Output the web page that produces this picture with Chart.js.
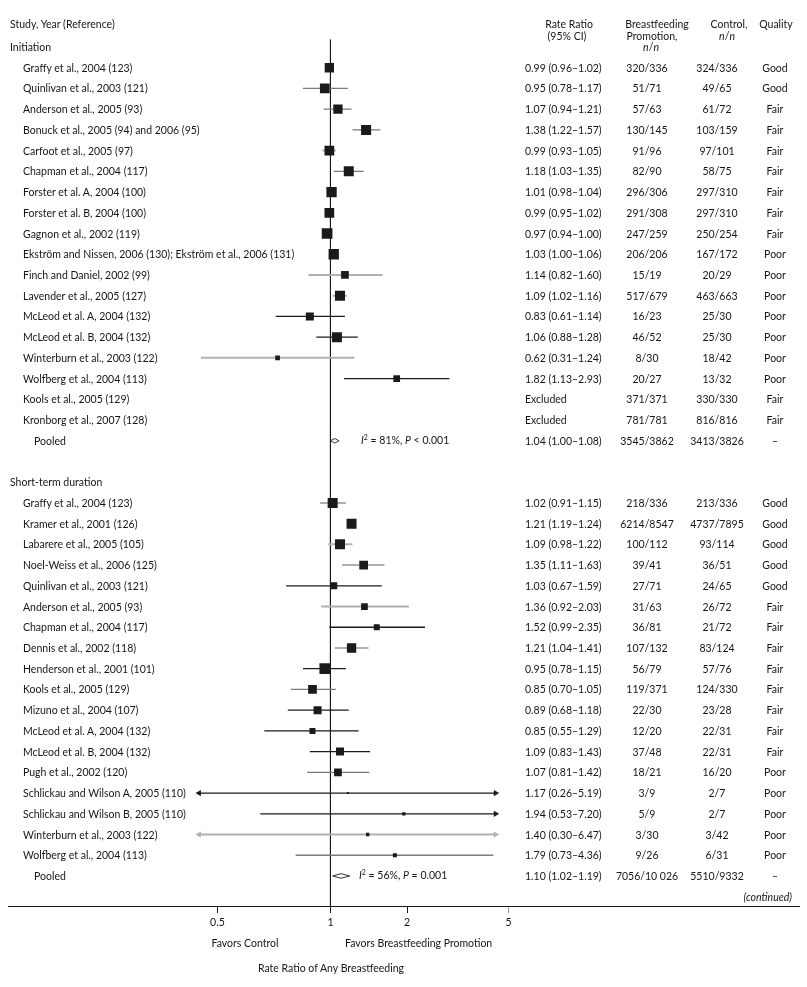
<!DOCTYPE html>
<html>
<head>
<meta charset="utf-8">
<script src="https://cdn.jsdelivr.net/npm/chart.js@4.4.1/dist/chart.umd.min.js"></script>
<style>
    body { margin: 0; background: #fff; }
    #wrap { position: relative; width: 807px; height: 987px; font-family: Lato, "Noto Sans", sans-serif; font-size: 10.5px; color: #151515; }
    #wrap canvas { position: absolute; left: 0; top: 0; }
    .t { position: absolute; white-space: nowrap; line-height: 12px; }
    .i { font-style: italic; }
</style>
</head>
<body>
<div id="wrap"><canvas id="forest" width="807" height="987"></canvas></div>
<script>
// Forest plot: rate ratio of any breastfeeding, promotion vs control

// --- Initiation ---
const initNames = [
    'Graffy et al., 2004 (123)', 'Quinlivan et al., 2003 (121)', 'Anderson et al., 2005 (93)',
    'Bonuck et al., 2005 (94) and 2006 (95)', 'Carfoot et al., 2005 (97)', 'Chapman et al., 2004 (117)',
    'Forster et al. A, 2004 (100)', 'Forster et al. B, 2004 (100)', 'Gagnon et al., 2002 (119)',
    'Ekström and Nissen, 2006 (130); Ekström et al., 2006 (131)', 'Finch and Daniel, 2002 (99)',
    'Lavender et al., 2005 (127)', 'McLeod et al. A, 2004 (132)', 'McLeod et al. B, 2004 (132)',
    'Winterburn et al., 2003 (122)', 'Wolfberg et al., 2004 (113)', 'Kools et al., 2005 (129)',
    'Kronborg et al., 2007 (128)'
];
const initRR = [0.99, 0.95, 1.07, 1.38, 0.99, 1.18, 1.01, 0.99, 0.97, 1.03, 1.14, 1.09, 0.83, 1.06, 0.62, 1.82, null, null];
const initLo = [0.96, 0.78, 0.94, 1.22, 0.93, 1.03, 0.98, 0.95, 0.94, 1.00, 0.82, 1.02, 0.61, 0.88, 0.31, 1.13, null, null];
const initHi = [1.02, 1.17, 1.21, 1.57, 1.05, 1.35, 1.04, 1.02, 1.00, 1.06, 1.60, 1.16, 1.14, 1.28, 1.24, 2.93, null, null];
const initPromo = ['320/336', '51/71', '57/63', '130/145', '91/96', '82/90', '296/306', '291/308', '247/259',
    '206/206', '15/19', '517/679', '16/23', '46/52', '8/30', '20/27', '371/371', '781/781'];
const initCtrl = ['324/336', '49/65', '61/72', '103/159', '97/101', '58/75', '297/310', '297/310', '250/254',
    '167/172', '20/29', '463/663', '25/30', '25/30', '18/42', '13/32', '330/330', '816/816'];
const initQuality = ['Good', 'Good', 'Fair', 'Fair', 'Fair', 'Fair', 'Fair', 'Fair', 'Fair',
    'Poor', 'Poor', 'Poor', 'Poor', 'Poor', 'Poor', 'Poor', 'Fair', 'Fair'];
const initWeight = [9.3, 9.7, 9.3, 10, 9.7, 10, 10.3, 9.7, 10.7, 10.3, 7.7, 10, 8, 10, 4.7, 6.7, 0, 0];
const initGroup = ['b', 'b', 'b', 'b', 'c', 'b', 'b', 'b', 'b', 'b', 'c', 'c', 'a', 'a', 'c', 'a', 'a', 'a'];

// --- Short-term duration ---
const shortNames = [
    'Graffy et al., 2004 (123)', 'Kramer et al., 2001 (126)', 'Labarere et al., 2005 (105)',
    'Noel-Weiss et al., 2006 (125)', 'Quinlivan et al., 2003 (121)', 'Anderson et al., 2005 (93)',
    'Chapman et al., 2004 (117)', 'Dennis et al., 2002 (118)', 'Henderson et al., 2001 (101)',
    'Kools et al., 2005 (129)', 'Mizuno et al., 2004 (107)', 'McLeod et al. A, 2004 (132)',
    'McLeod et al. B, 2004 (132)', 'Pugh et al., 2002 (120)', 'Schlickau and Wilson A, 2005 (110)',
    'Schlickau and Wilson B, 2005 (110)', 'Winterburn et al., 2003 (122)', 'Wolfberg et al., 2004 (113)'
];
const shortRR = [1.02, 1.21, 1.09, 1.35, 1.03, 1.36, 1.52, 1.21, 0.95, 0.85, 0.89, 0.85, 1.09, 1.07, 1.17, 1.94, 1.40, 1.79];
const shortLo = [0.91, 1.19, 0.98, 1.11, 0.67, 0.92, 0.99, 1.04, 0.78, 0.70, 0.68, 0.55, 0.83, 0.81, 0.26, 0.53, 0.30, 0.73];
const shortHi = [1.15, 1.24, 1.22, 1.63, 1.59, 2.03, 2.35, 1.41, 1.15, 1.05, 1.18, 1.29, 1.43, 1.42, 5.19, 7.20, 6.47, 4.36];
const shortPromo = ['218/336', '6214/8547', '100/112', '39/41', '27/71', '31/63', '36/81', '107/132', '56/79',
    '119/371', '22/30', '12/20', '37/48', '18/21', '3/9', '5/9', '3/30', '9/26'];
const shortCtrl = ['213/336', '4737/7895', '93/114', '36/51', '24/65', '26/72', '21/72', '83/124', '57/76',
    '124/330', '23/28', '22/31', '22/31', '16/20', '2/7', '2/7', '3/42', '6/31'];
const shortQuality = ['Good', 'Good', 'Good', 'Good', 'Good', 'Fair', 'Fair', 'Fair', 'Fair',
    'Fair', 'Fair', 'Fair', 'Fair', 'Poor', 'Poor', 'Poor', 'Poor', 'Poor'];
const shortWeight = [10, 10, 10, 8.7, 7, 6.7, 6, 9.3, 10.7, 8.7, 8, 6, 8, 7.7, 2, 3.3, 3.3, 4];
const shortGroup = ['c', 'b', 'c', 'c', 'a', 'c', 'a', 'c', 'a', 'b', 'a', 'a', 'a', 'b', 'a', 'a', 'c', 'b'];

// --- Pooled estimates (initiation, short-term) ---
const pooledRR = [1.04, 1.10];
const pooledLo = [1.00, 1.02];
const pooledHi = [1.08, 1.19];
const pooledPromo = ['3545/3862', '7056/10 026'];
const pooledCtrl = ['3413/3826', '5510/9332'];
const pooledI2 = ['81%', '56%'];
const pooledP = ['< 0.001', '= 0.001'];

// axis ticks (the source draws its "0.5" label at about 0.36 on the log scale)
const tickAt = [0.36, 1, 2, 5];
const tickLabels = ['0.5', '1', '2', '5'];
// CI lines beyond these get an arrow head
const clipLo = 0.305;
const clipHi = 4.45;

const groupColor = { a: '#1a1a1a', b: '#7a7a7a', c: '#b0b0b0' };
const ink = '#1a1a1a';

// build rows
const studies = [];
function addSection(firstRow, names, rr, lo, hi, promo, ctrl, quality, weight, group) {
    names.forEach((name, i) => {
        studies.push({ row: firstRow + i, name, rr: rr[i], lo: lo[i], hi: hi[i], promo: promo[i],
            ctrl: ctrl[i], quality: quality[i], weight: weight[i], group: group[i] });
    });
}
addSection(1, initNames, initRR, initLo, initHi, initPromo, initCtrl, initQuality, initWeight, initGroup);
addSection(22, shortNames, shortRR, shortLo, shortHi, shortPromo, shortCtrl, shortQuality, shortWeight, shortGroup);
const pooledRows = [19, 40];
const sectionRows = [[0, 'Initiation'], [21, 'Short-term duration']];

const plotted = studies.filter(s => s.rr != null);
const datasets = [];

// squares, drawn on top
datasets.push({
    type: 'scatter',
    data: plotted.map(s => ({ x: Math.log(s.rr), y: s.row })),
    pointStyle: 'rect',
    pointRadius: plotted.map(s => s.weight / Math.SQRT2),
    pointBackgroundColor: ink,
    pointBorderWidth: 0
});

// confidence intervals
plotted.forEach(s => {
    const lo = Math.max(s.lo, clipLo);
    const hi = Math.min(s.hi, clipHi);
    const col = groupColor[s.group];
    datasets.push({
        type: 'line',
        data: [{ x: Math.log(lo), y: s.row }, { x: Math.log(hi), y: s.row }],
        borderColor: col,
        borderWidth: s.group === 'c' ? 2 : 1.3,
        pointStyle: 'triangle',
        pointRadius: [s.lo < clipLo ? 3.6 : 0, s.hi > clipHi ? 3.6 : 0],
        pointRotation: [-90, 90],
        pointBackgroundColor: col,
        pointBorderWidth: 0
    });
});

// pooled diamonds
pooledRows.forEach((row, k) => {
    const h = 0.11;
    datasets.push({
        type: 'line',
        data: [
            { x: Math.log(pooledLo[k]), y: row }, { x: Math.log(pooledRR[k]), y: row - h },
            { x: Math.log(pooledHi[k]), y: row }, { x: Math.log(pooledRR[k]), y: row + h },
            { x: Math.log(pooledLo[k]), y: row }
        ],
        borderColor: '#333',
        borderWidth: 1,
        pointRadius: 0
    });
});

// line of no effect
datasets.push({
    type: 'line',
    data: [{ x: 0, y: -0.35 }, { x: 0, y: 41.45 }],
    borderColor: ink,
    borderWidth: 1,
    pointRadius: 0
});

const chart = new Chart(document.getElementById('forest'), {
    type: 'scatter',
    data: { datasets },
    options: {
        responsive: false,
        animation: false,
        events: [],
        layout: { padding: { left: 8, right: 7, top: 20, bottom: 0 } },
        plugins: { legend: { display: false }, tooltip: { enabled: false } },
        scales: {
            x: {
                type: 'linear',
                min: -2.915,
                max: 4.2395,
                afterBuildTicks: scale => { scale.ticks = tickAt.map(v => ({ value: Math.log(v) })); },
                afterFit: scale => { scale.height = 81; },
                ticks: {
                    autoSkip: false,
                    maxRotation: 0,
                    padding: 3,
                    color: '#151515',
                    font: { family: 'Lato', size: 10.5 },
                    callback: (val, i) => tickLabels[i]
                },
                grid: {
                    drawOnChartArea: false,
                    tickLength: 7,
                    color: ctx => (ctx.index === 3 ? '#999' : ink)
                },
                border: { display: true, color: ink, width: 1 }
            },
            y: { type: 'linear', reverse: true, min: -1.303, max: 41.45, display: false }
        }
    }
});

// text columns, placed on the chart's row scale
const wrap = document.getElementById('wrap');
function txt(html, x, y, align, cls) {
    const d = document.createElement('div');
    d.className = 't' + (cls ? ' ' + cls : '');
    d.innerHTML = html;
    d.style.left = x + 'px';
    d.style.top = y + 'px';
    const tx = align === 'c' ? '-50%' : align === 'r' ? '-100%' : '0';
    d.style.transform = `translate(${tx}, -50%)`;
    wrap.appendChild(d);
}
const yAt = r => chart.scales.y.getPixelForValue(r);
const fmt = v => v.toFixed(2);

// header
txt('Study, Year (Reference)', 10, 24, 'l');
txt('Rate Ratio', 569, 24, 'c');
txt('(95% CI)', 567, 36, 'c');
txt('Breastfeeding', 657, 24, 'c');
txt('Promotion,', 652, 36, 'c');
txt('<span class="i">n</span>/<span class="i">n</span>', 651, 47, 'c');
txt('Control,', 729, 24, 'c');
txt('<span class="i">n</span>/<span class="i">n</span>', 727, 36, 'c');
txt('Quality', 776, 24, 'c');

sectionRows.forEach(([row, label]) => txt(label, 10, yAt(row), 'l'));

studies.forEach(s => {
    const y = yAt(s.row);
    txt(s.name, 23, y, 'l');
    txt(s.rr == null ? 'Excluded' : `${fmt(s.rr)} (${fmt(s.lo)}–${fmt(s.hi)})`, 525, y, 'l');
    txt(s.promo, 647, y, 'c');
    txt(s.ctrl, 717, y, 'c');
    txt(s.quality, 775, y, 'c');
});

pooledRows.forEach((row, k) => {
    const y = yAt(row);
    txt('Pooled', 34, y, 'l');
    txt(`<span class="i">I</span><sup style="font-size:7px;line-height:0">2</sup> = ${pooledI2[k]}, <span class="i">P</span> ${pooledP[k]}`,
        k === 0 ? 361 : 359, y - 1, 'l');
    txt(`${fmt(pooledRR[k])} (${fmt(pooledLo[k])}–${fmt(pooledHi[k])})`, 525, y, 'l');
    txt(pooledPromo[k], 647, y, 'c');
    txt(pooledCtrl[k], 717, y, 'c');
    txt('–', 775, y, 'c');
});

txt('(continued)', 792, 897, 'r', 'i');
txt('Favors Control', 245, 943, 'c');
txt('Favors Breastfeeding Promotion', 345, 943, 'l');
txt('Rate Ratio of Any Breastfeeding', 331, 968, 'c');
</script>
</body>
</html>
